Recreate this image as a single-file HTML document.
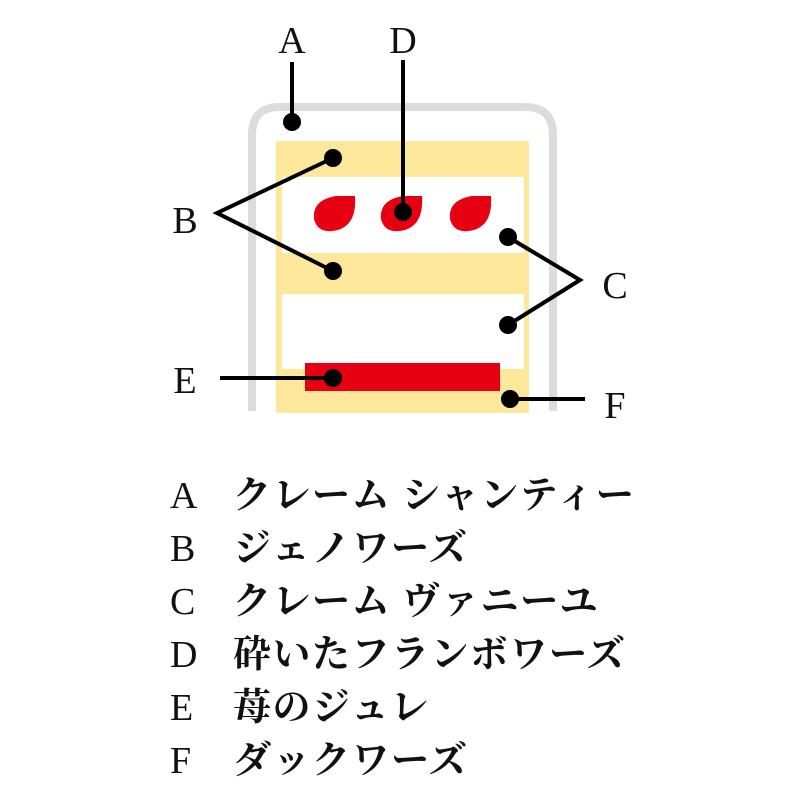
<!DOCTYPE html>
<html><head><meta charset="utf-8"><style>
body{margin:0;background:#fff;width:800px;height:800px;overflow:hidden}
svg{display:block}
.l{font-family:"Liberation Serif",serif;font-size:38px;fill:#111}
.j{font-family:"Liberation Serif","Noto Serif CJK JP","Noto Serif CJK SC",serif;font-size:38px;font-weight:bold;fill:#111;letter-spacing:1.5px}
</style></head><body>
<svg width="800" height="800" viewBox="0 0 800 800">
<path d="M252 411 V135 Q252 107 280 107 H525 Q553 107 553 135 V411" fill="none" stroke="#dcdcdc" stroke-width="8"/>
<rect x="276" y="141" width="253" height="272" fill="#fce79a"/>
<rect x="282" y="177" width="242" height="76" fill="#fff"/>
<rect x="282" y="294" width="242" height="75" fill="#fff"/>
<rect x="305" y="363" width="195" height="28" fill="#e60012"/>
<g fill="#e60012">
<path d="M355 196 Q357 224 338 230 Q318 235 314 219 Q312 200 336 196 Z"/>
<path d="M422 196 Q424 224 405 230 Q385 235 381 219 Q379 200 403 196 Z"/>
<path d="M491 196 Q493 224 474 230 Q454 235 450 219 Q448 200 472 196 Z"/>
</g>
<g stroke="#000" stroke-width="4" fill="none">
<line x1="292" y1="62" x2="292" y2="122"/>
<line x1="403" y1="60" x2="403" y2="212"/>
<polyline points="333,158 217,213 333,271"/>
<polyline points="508,237 580,280 508,325"/>
<line x1="220" y1="378" x2="333" y2="378"/>
<line x1="510" y1="399" x2="585" y2="399"/>
</g>
<g fill="#000">
<circle cx="292" cy="122" r="9"/><circle cx="403" cy="212" r="9"/>
<circle cx="333" cy="158" r="9"/><circle cx="333" cy="271" r="9"/>
<circle cx="508" cy="237" r="9"/><circle cx="508" cy="325" r="9"/>
<circle cx="333" cy="378" r="9"/><circle cx="510" cy="399" r="9"/>
</g>
<text class="l" x="292" y="53" text-anchor="middle">A</text>
<text class="l" x="403" y="53" text-anchor="middle">D</text>
<text class="l" x="185" y="233" text-anchor="middle">B</text>
<text class="l" x="615" y="298" text-anchor="middle">C</text>
<text class="l" x="185" y="393" text-anchor="middle">E</text>
<text class="l" x="615" y="418" text-anchor="middle">F</text>
<g>
<text class="l" x="170" y="508">A</text><text class="j" x="233" y="508">クレーム シャンティー</text>
<text class="l" x="170" y="561">B</text><text class="j" x="233" y="561">ジェノワーズ</text>
<text class="l" x="170" y="614">C</text><text class="j" x="233" y="614">クレーム ヴァニーユ</text>
<text class="l" x="170" y="667">D</text><text class="j" x="233" y="667">砕いたフランボワーズ</text>
<text class="l" x="170" y="720">E</text><text class="j" x="233" y="720">苺のジュレ</text>
<text class="l" x="170" y="773">F</text><text class="j" x="233" y="773">ダックワーズ</text>
</g>
</svg>
</body></html>
